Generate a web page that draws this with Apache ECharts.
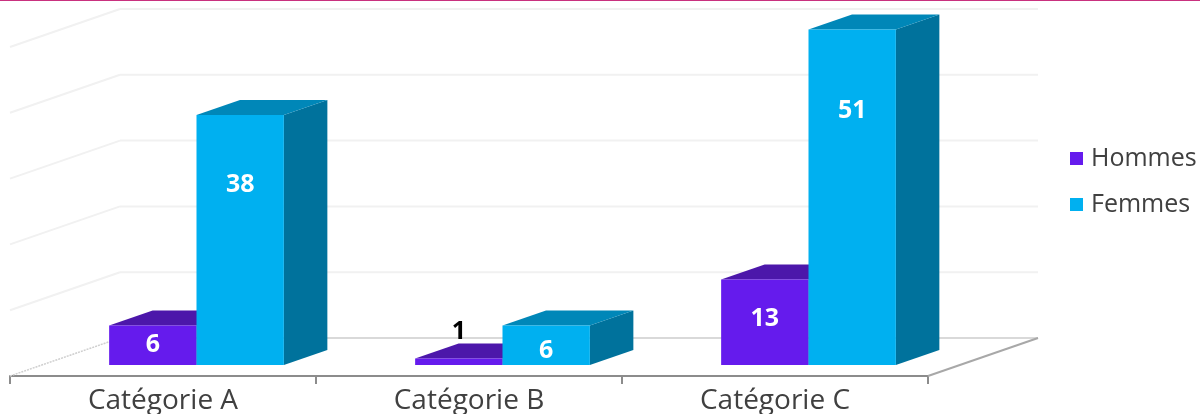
<!DOCTYPE html>
<html><head><meta charset="utf-8">
<style>html,body{margin:0;padding:0;background:#fff}#c{width:1200px;height:414px}</style>
<script src="https://cdn.jsdelivr.net/npm/echarts@6/dist/echarts.min.js"></script>
</head><body><div id="c"></div>
<script>
const categories = ['Catégorie A', 'Catégorie B', 'Catégorie C'];
const hommes = [6, 1, 13];
const femmes = [38, 6, 51];
const wallTicks = [0, 10, 20, 30, 40, 50];

// layout of the fake 3D projection (px)
const WALL = {dx: 110, dy: -38};
const BAR_FRONT = {dx: 33.5, dy: -11};
const BAR_DEPTH = {dx: 43.5, dy: -15};
const BAR_W = 0.2855; // share of a category band
const FONT = '"Open Sans", Lato, sans-serif';
// label lift from bar centre, px, per series and category
const LABEL_SHIFT = {
  Hommes: [0, -30, -3],
  Femmes: [-55, 6, -86]
};
const COLORS = {
  Hommes: {front: '#651bed', top: '#4c17aa', side: '#3d1288'},
  Femmes: {front: '#00b0f0', top: '#0087b8', side: '#00729c'}
};

function wallItem(params, api) {
  const cs = params.coordSys;
  const p = api.coord([0, api.value(1)]);
  const y = p[1], x0 = cs.x, x1 = cs.x + cs.width;
  const base = api.value(1) === 0;
  const stroke = base ? '#d9d9d9' : '#f1f1f1';
  const children = [
    {type: 'line', shape: {x1: x0, y1: y, x2: x0 + WALL.dx, y2: y + WALL.dy},
     style: {stroke: base ? '#cfcfcf' : stroke, lineWidth: base ? 1.5 : 2, lineDash: base ? [2, 1] : null}},
    {type: 'line', shape: {x1: x0 + WALL.dx, y1: y + WALL.dy, x2: x1 + WALL.dx, y2: y + WALL.dy},
     style: {stroke: stroke, lineWidth: 2}}
  ];
  if (base) children.push(
    {type: 'line', shape: {x1: x1, y1: y, x2: x1 + WALL.dx, y2: y + WALL.dy},
     style: {stroke: '#a8a8a8', lineWidth: 2}});
  return {type: 'group', children};
}

function barRenderer(name, offset) {
  return function (params, api) {
    const c = COLORS[name];
    const i = api.value(0), v = api.value(1);
    const w = api.size([1, 0])[0] * BAR_W;
    const base = api.coord([i, 0]), top = api.coord([i, v]);
    const xl = base[0] + BAR_FRONT.dx + offset * w;
    const xr = xl + w;
    const yb = base[1] + BAR_FRONT.dy;
    const yt = top[1] + BAR_FRONT.dy;
    const dx = BAR_DEPTH.dx, dy = BAR_DEPTH.dy;
    const shift = LABEL_SHIFT[name][params.dataIndex];
    const dark = v < 2;
    return {type: 'group', children: [
      {type: 'polygon', shape: {points: [[xr, yb], [xr + dx, yb + dy], [xr + dx, yt + dy], [xr, yt]]}, style: {fill: c.side}},
      {type: 'polygon', shape: {points: [[xl, yt], [xl + dx, yt + dy], [xr + dx, yt + dy], [xr, yt]]}, style: {fill: c.top}},
      {type: 'rect', shape: {x: xl, y: yt, width: w, height: yb - yt}, style: {fill: c.front}},
      {type: 'text', style: {text: String(v), x: xl + w / 2, y: (yt + yb) / 2 + shift, align: 'center', verticalAlign: 'middle',
        fill: dark ? '#000' : '#fff', font: 'bold 25px ' + FONT}}
    ]};
  };
}

const chart = echarts.init(document.getElementById('c'), null, {renderer: 'canvas'});
chart.setOption({
  animation: false,
  grid: {left: 10, width: 918, top: 47, bottom: 38, outerBoundsMode: 'none'},
  xAxis: {type: 'category', data: categories,
    axisLine: {lineStyle: {color: '#8c8c8c', width: 2}},
    axisTick: {show: true, length: 8, lineStyle: {color: '#8c8c8c', width: 2}},
    axisLabel: {color: '#404040', fontFamily: FONT, fontSize: 28, margin: 11}},
  yAxis: {type: 'value', min: 0, max: 50, interval: 10, show: false, splitLine: {show: false}},
  legend: {data: ['Hommes', 'Femmes'], orient: 'vertical', left: 1065, top: 141, itemWidth: 13, itemHeight: 13, itemGap: 21,
    icon: 'rect', selectedMode: false, textStyle: {color: '#404040', fontFamily: FONT, fontSize: 25, padding: [0, 0, 0, 3]}},
  graphic: [{type: 'rect', left: 0, top: 0, shape: {width: 1200, height: 1}, style: {fill: '#c9317f'}}],
  series: [
    {name: 'wall', type: 'custom', renderItem: wallItem, data: wallTicks.map(t => [0, t]), encode: {x: 0, y: 1}, silent: true, z: 1},
    {name: 'Hommes', type: 'custom', renderItem: barRenderer('Hommes', -1), data: hommes.map((v, i) => [i, v]), encode: {x: 0, y: 1},
     itemStyle: {color: COLORS.Hommes.front}, z: 2},
    {name: 'Femmes', type: 'custom', renderItem: barRenderer('Femmes', 0), data: femmes.map((v, i) => [i, v]), encode: {x: 0, y: 1},
     itemStyle: {color: COLORS.Femmes.front}, z: 3}
  ]
});
</script></body></html>
